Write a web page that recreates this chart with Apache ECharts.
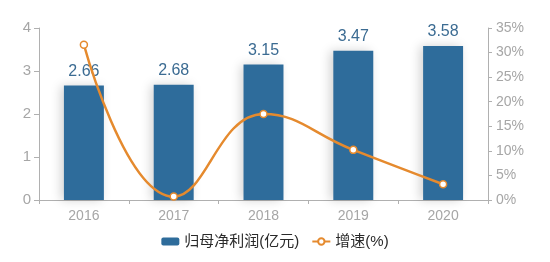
<!DOCTYPE html>
<html><head><meta charset="utf-8">
<script src="https://cdn.jsdelivr.net/npm/echarts@6/dist/echarts.min.js"></script>
<style>html,body{margin:0;padding:0;background:#fff}#c{width:550px;height:262px}</style>
</head><body><div id="c"></div>
<script>
const categories = ['2016','2017','2018','2019','2020'];
const profit = [2.66, 2.68, 3.15, 3.47, 3.58];
const growth = [31.6, 0.7, 17.5, 10.2, 3.2];
const leftTicks = [0, 1, 2, 3, 4];
const rightTicks = [0, 5, 10, 15, 20, 25, 30, 35];

const chart = echarts.init(document.getElementById('c'));
const font = 'Helvetica, "Liberation Sans", Arial, "Noto Sans CJK SC", sans-serif';
const axisGray = '#b0b0b0';
const labelGray = '#a6a6a6';
chart.setOption({
  animation: false,
  textStyle: {fontFamily: font},
  grid: {left: 39, right: 62, top: 28, bottom: 62},
  legend: {
    bottom: 8, left: 'center', itemGap: 12, itemWidth: 18, itemHeight: 8,
    textStyle: {fontSize: 15, color: '#2a2a2a', fontFamily: font},
    data: [{name: '归母净利润(亿元)', icon: 'roundRect'}, {name: '增速(%)'}]
  },
  xAxis: {
    type: 'category', data: categories,
    axisLine: {lineStyle: {color: axisGray}},
    axisTick: {show: true, length: 4, lineStyle: {color: axisGray}},
    axisLabel: {color: labelGray, fontSize: 14, margin: 9}
  },
  yAxis: [{
    type: 'value', min: leftTicks[0], max: leftTicks[leftTicks.length-1], interval: 1,
    splitLine: {show: false},
    axisLine: {show: true, lineStyle: {color: axisGray}},
    axisTick: {show: true, length: 5, lineStyle: {color: axisGray}},
    axisLabel: {color: labelGray, fontSize: 15, margin: 8}
  }, {
    type: 'value', min: rightTicks[0], max: rightTicks[rightTicks.length-1], interval: 5,
    position: 'right',
    splitLine: {show: false},
    axisLine: {show: true, lineStyle: {color: axisGray}},
    axisTick: {show: true, length: 4, lineStyle: {color: axisGray}},
    axisLabel: {color: labelGray, fontSize: 14, margin: 8, formatter: '{value}%'}
  }],
  series: [{
    name: '归母净利润(亿元)', type: 'bar', data: profit, barWidth: '44.5%',
    itemStyle: {color: '#2e6c9b', shadowColor: 'rgba(0,0,0,0.18)', shadowBlur: 10, shadowOffsetX: -3},
    label: {show: true, position: 'top', color: '#3b6b92', fontSize: 16, distance: 6}
  }, {
    name: '增速(%)', type: 'line', yAxisIndex: 1, data: growth, smooth: 0.45,
    symbol: 'circle', symbolSize: 7,
    lineStyle: {color: '#e58a2e', width: 2.5},
    itemStyle: {color: '#fff', borderColor: '#e58a2e', borderWidth: 1.5}
  }]
});
</script></body></html>
